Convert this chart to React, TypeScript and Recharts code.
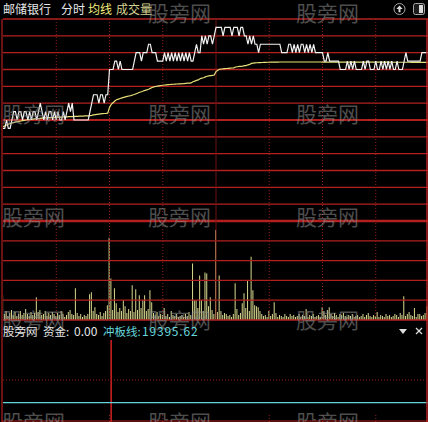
import React from 'react';
import { ComposedChart, Line, Bar, XAxis, YAxis, ReferenceLine } from 'recharts';

// 邮储银行 intraday (分时) — one value per trading minute, 0..240
const PREV_CLOSE = 5.16;

const price = [
  5.15, 5.15, 5.16, 5.15, 5.15, 5.16, 5.17, 5.17, 5.16, 5.17,
  5.17, 5.16, 5.17, 5.17, 5.16, 5.17, 5.16, 5.17, 5.17, 5.16,
  5.17, 5.18, 5.17, 5.16, 5.17, 5.16, 5.17, 5.17, 5.16, 5.17,
  5.16, 5.17, 5.16, 5.16, 5.17, 5.16, 5.17, 5.18, 5.17, 5.18,
  5.16, 5.16, 5.16, 5.16, 5.16, 5.16, 5.16, 5.16, 5.16, 5.17,
  5.18, 5.19, 5.19, 5.19, 5.18, 5.19, 5.19, 5.18, 5.19, 5.19,
  5.22, 5.22, 5.22, 5.23, 5.23, 5.22, 5.23, 5.22, 5.22, 5.22,
  5.22, 5.22, 5.22, 5.22, 5.23, 5.24, 5.24, 5.24, 5.23, 5.24,
  5.24, 5.24, 5.25, 5.25, 5.24, 5.24, 5.24, 5.23, 5.23, 5.23,
  5.23, 5.24, 5.23, 5.24, 5.23, 5.24, 5.23, 5.24, 5.23, 5.24,
  5.23, 5.24, 5.23, 5.24, 5.23, 5.24, 5.23, 5.23, 5.24, 5.25,
  5.24, 5.24, 5.26, 5.25, 5.26, 5.25, 5.26, 5.26, 5.25, 5.26,
  5.27, 5.27, 5.27, 5.27, 5.26, 5.27, 5.27, 5.27, 5.27, 5.26,
  5.27, 5.27, 5.27, 5.26, 5.27, 5.27, 5.26, 5.26, 5.25, 5.26,
  5.25, 5.26, 5.25, 5.25, 5.24, 5.25, 5.25, 5.25, 5.25, 5.25,
  5.25, 5.25, 5.25, 5.25, 5.25, 5.25, 5.25, 5.24, 5.24, 5.24,
  5.24, 5.25, 5.25, 5.24, 5.25, 5.24, 5.25, 5.24, 5.25, 5.25,
  5.24, 5.25, 5.24, 5.25, 5.24, 5.25, 5.24, 5.24, 5.24, 5.24,
  5.24, 5.23, 5.23, 5.24, 5.23, 5.23, 5.23, 5.23, 5.23, 5.23,
  5.22, 5.22, 5.22, 5.22, 5.23, 5.22, 5.23, 5.22, 5.23, 5.22,
  5.22, 5.22, 5.22, 5.23, 5.22, 5.23, 5.23, 5.22, 5.22, 5.22,
  5.23, 5.22, 5.22, 5.23, 5.22, 5.23, 5.22, 5.23, 5.22, 5.23,
  5.22, 5.22, 5.23, 5.22, 5.22, 5.22, 5.23, 5.24, 5.23, 5.23,
  5.23, 5.23, 5.23, 5.23, 5.23, 5.23, 5.24, 5.24, 5.24, 5.24,
  5.24,
];

const avgPrice = [
  5.1520, 5.1530, 5.1540, 5.1550, 5.1558, 5.1564, 5.1570, 5.1575, 5.1580, 5.1584,
  5.1588, 5.1592, 5.1596, 5.1600, 5.1603, 5.1606, 5.1608, 5.1610, 5.1613, 5.1616,
  5.1618, 5.1620, 5.1622, 5.1623, 5.1625, 5.1626, 5.1628, 5.1629, 5.1630, 5.1631,
  5.1632, 5.1633, 5.1634, 5.1635, 5.1636, 5.1637, 5.1638, 5.1639, 5.1640, 5.1641,
  5.1642, 5.1643, 5.1644, 5.1645, 5.1646, 5.1647, 5.1648, 5.1649, 5.1650, 5.1652,
  5.1655, 5.1660, 5.1663, 5.1666, 5.1669, 5.1672, 5.1675, 5.1677, 5.1679, 5.1682,
  5.1750, 5.1785, 5.1805, 5.1825, 5.1840, 5.1848, 5.1856, 5.1862, 5.1868, 5.1874,
  5.1880, 5.1885, 5.1890, 5.1897, 5.1903, 5.1912, 5.1920, 5.1930, 5.1936, 5.1944,
  5.1952, 5.1958, 5.1966, 5.1976, 5.1986, 5.1993, 5.1998, 5.2002, 5.2006, 5.2010,
  5.2013, 5.2016, 5.2018, 5.2020, 5.2022, 5.2024, 5.2025, 5.2027, 5.2028, 5.2029,
  5.2030, 5.2031, 5.2033, 5.2035, 5.2037, 5.2039, 5.2041, 5.2055, 5.2062, 5.2070,
  5.2076, 5.2090, 5.2097, 5.2102, 5.2112, 5.2120, 5.2124, 5.2128, 5.2131, 5.2134,
  5.2175, 5.2190, 5.2202, 5.2206, 5.2208, 5.2210, 5.2212, 5.2214, 5.2216, 5.2218,
  5.2220, 5.2230, 5.2233, 5.2236, 5.2238, 5.2241, 5.2245, 5.2247, 5.2256, 5.2260,
  5.2272, 5.2276, 5.2278, 5.2280, 5.2281, 5.2282, 5.2283, 5.2284, 5.2285, 5.2286,
  5.2286, 5.2287, 5.2287, 5.2288, 5.2288, 5.2288, 5.2289, 5.2289, 5.2289, 5.2289,
  5.2289, 5.2289, 5.2289, 5.2289, 5.2289, 5.2289, 5.2289, 5.2289, 5.2289, 5.2289,
  5.2289, 5.2289, 5.2289, 5.2289, 5.2289, 5.2289, 5.2289, 5.2289, 5.2289, 5.2289,
  5.2288, 5.2288, 5.2288, 5.2288, 5.2288, 5.2288, 5.2288, 5.2288, 5.2288, 5.2288,
  5.2288, 5.2288, 5.2288, 5.2288, 5.2288, 5.2288, 5.2288, 5.2288, 5.2288, 5.2288,
  5.2287, 5.2287, 5.2287, 5.2287, 5.2287, 5.2287, 5.2287, 5.2287, 5.2287, 5.2287,
  5.2287, 5.2287, 5.2287, 5.2287, 5.2287, 5.2287, 5.2287, 5.2287, 5.2287, 5.2287,
  5.2286, 5.2286, 5.2286, 5.2286, 5.2286, 5.2286, 5.2286, 5.2286, 5.2286, 5.2286,
  5.2285, 5.2285, 5.2285, 5.2285, 5.2285, 5.2285, 5.2285, 5.2285, 5.2285, 5.2285,
  5.2285,
];

// 成交量 per minute (万股)
const volume = [
  25, 6, 9, 4, 7, 10, 5, 8, 4, 6,
  9, 5, 7, 11, 6, 4, 8, 5, 7, 23,
  8, 10, 5, 6, 9, 4, 7, 5, 8, 6,
  4, 7, 5, 9, 6, 3, 5, 8, 10, 6,
  5, 32, 7, 4, 6, 3, 5, 4, 6, 26,
  28, 9, 13, 6, 5, 8, 4, 7, 9, 15,
  83, 42, 10, 32, 17, 8, 12, 9, 20, 14,
  7, 11, 9, 35, 8, 31, 10, 25, 12, 20,
  25, 9, 11, 30, 18, 7, 5, 8, 4, 6,
  5, 12, 4, 6, 3, 9, 5, 4, 6, 3,
  4, 5, 3, 6, 4, 8, 5, 57, 20, 20,
  12, 45, 20, 9, 48, 47, 14, 23, 10, 6,
  91, 8, 45, 9, 5, 7, 6, 4, 5, 3,
  6, 37, 11, 5, 7, 17, 27, 12, 40, 9,
  64, 30, 15, 14, 13, 9, 6, 4, 5, 3,
  9, 4, 6, 18, 7, 3, 5, 4, 3, 6,
  4, 3, 6, 4, 5, 3, 4, 6, 3, 5,
  4, 11, 3, 5, 4, 6, 3, 4, 5, 3,
  13, 9, 5, 10, 13, 6, 4, 7, 5, 3,
  6, 5, 7, 4, 3, 5, 4, 6, 3, 4,
  5, 3, 4, 6, 3, 5, 7, 4, 3, 5,
  4, 8, 3, 5, 4, 3, 6, 4, 5, 3,
  4, 6, 5, 3, 7, 5, 24, 4, 6, 8,
  5, 4, 12, 3, 6, 6, 4, 5, 7, 14,
  9,
];

// 资金 indicator: minutes with a non-zero reading; last reading 0.00
const fundSpikes = [{ minute: 61, value: 82000 }];
const FUND_LAST = 0.0;
const BOARD_LINE = 19395.62; // 冲板线

const priceGrid = [5.04, 5.06, 5.08, 5.1, 5.12, 5.14, 5.16, 5.18, 5.2, 5.22, 5.24, 5.26, 5.28];
const volumeGrid = [0, 20, 40, 60, 80];
const fundGrid = [42000];
const halfHours = [30, 60, 90, 150, 180, 210];
const MIDDAY = 120;

const minutes = price.map((_, i) => i);
const priceRows = minutes.map((m) => ({ m, price: price[m], avg: avgPrice[m] }));
const volRows = minutes.map((m) => ({ m, vol: volume[m] }));
const fundRows = minutes.map((m) => ({
  m,
  fund: fundSpikes.find((f) => f.minute === m)?.value ?? 0,
  board: BOARD_LINE,
}));

const RED = '#b3201f';
const DOT_RED = '#9a1d1d';
const FONT = '"Noto Sans CJK SC", "Noto Sans", sans-serif';
const CW = 432;
const CH = 422;
const layer: React.CSSProperties = { position: 'absolute', left: 0, top: 0 };

// watermark grid: [x, baseline]
const watermarks: [number, number][] = [
  [148, 21], [296, 21],
  [2, 122], [148, 122], [296, 122],
  [2, 225], [148, 225], [296, 225],
  [2, 328], [148, 328], [296, 328],
  [2, 430], [148, 430], [296, 430],
];

export default function App() {
  return (
    <div
      style={{
        position: 'fixed',
        left: 0,
        top: 0,
        width: 428,
        height: 422,
        background: '#000',
        overflow: 'hidden',
      }}
    >
      {/* price panel */}
      <div style={layer}>
        <ComposedChart width={CW} height={CH} data={priceRows} margin={{ top: 19, right: 3, bottom: 201, left: 3 }}>
          <XAxis dataKey="m" type="number" domain={[0, 240]} hide allowDataOverflow />
          <YAxis domain={[PREV_CLOSE - 0.12, PREV_CLOSE + 0.12]} hide allowDataOverflow />
          {priceGrid.map((v) => (
            <ReferenceLine
              key={v}
              y={v}
              stroke={RED}
              strokeWidth={v === PREV_CLOSE ? 2 : v === priceGrid[0] ? 2.5 : 1.3}
            />
          ))}
          {halfHours.map((t) => (
            <ReferenceLine key={t} x={t} stroke={DOT_RED} strokeDasharray="1 2" />
          ))}
          <ReferenceLine x={MIDDAY} stroke="#6e1515" strokeWidth={1} />
          <Line dataKey="avg" type="linear" stroke="#e6df78" strokeWidth={1.2} dot={false} isAnimationActive={false} />
          <Line dataKey="price" type="linear" stroke="#f2f2f2" strokeWidth={1.2} dot={false} isAnimationActive={false} />
        </ComposedChart>
      </div>

      {/* volume panel */}
      <div style={layer}>
        <ComposedChart width={CW} height={CH} data={volRows} margin={{ top: 221, right: 3, bottom: 102, left: 3 }}>
          <XAxis dataKey="m" type="number" domain={[0, 240]} hide allowDataOverflow />
          <YAxis domain={[0, 100]} hide allowDataOverflow />
          {volumeGrid.map((v) => (
            <ReferenceLine key={v} y={v} stroke={RED} strokeWidth={1.3} />
          ))}
          {halfHours.map((t) => (
            <ReferenceLine key={t} x={t} stroke={DOT_RED} strokeDasharray="1 2" />
          ))}
          <ReferenceLine x={MIDDAY} stroke="#6e1515" strokeWidth={1} />
          <Bar dataKey="vol" fill="#d9d88e" barSize={1} isAnimationActive={false} />
        </ComposedChart>
      </div>

      {/* 资金 / 冲板线 panel */}
      <div style={layer}>
        <ComposedChart width={CW} height={CH} data={fundRows} margin={{ top: 322, right: 3, bottom: 0, left: 3 }}>
          <XAxis dataKey="m" type="number" domain={[0, 240]} hide allowDataOverflow />
          <YAxis domain={[0, 100000]} hide allowDataOverflow />
          {fundGrid.map((v) => (
            <ReferenceLine key={v} y={v} stroke={DOT_RED} strokeDasharray="1 2" />
          ))}
          {halfHours.map((t) => (
            <ReferenceLine
              key={t}
              segment={[{ x: t, y: 0 }, { x: t, y: 9000 }]}
              stroke={DOT_RED}
              strokeDasharray="1 2"
            />
          ))}
          <Bar dataKey="fund" fill="#d42020" barSize={1.5} isAnimationActive={false} />
          <Line dataKey="board" type="linear" stroke="#62d6dc" strokeWidth={1.3} dot={false} isAnimationActive={false} />
        </ComposedChart>
      </div>

      {/* frame, labels, icons */}
      <svg width={428} height={422} style={layer} fontFamily={FONT}>
        <line x1={2} y1={19} x2={2} y2={422} stroke={RED} strokeWidth={1.2} />
        <line x1={427} y1={19} x2={427} y2={422} stroke={RED} strokeWidth={1.5} />
        <line x1={2} y1={421} x2={428} y2={421} stroke={RED} strokeWidth={1.2} />

        {watermarks.map(([x, y]) => (
          <text key={`${x}-${y}`} x={x} y={y} fontSize={21} fill="#8c8c8c" opacity={0.55}>
            股旁网
          </text>
        ))}

        <text x={3} y={14} fontSize={12} fill="#e8e8e8">邮储银行</text>
        <text x={61} y={14} fontSize={12} fill="#e8e8e8">分时</text>
        <text x={88} y={14} fontSize={12} fill="#f0ec7c">均线</text>
        <text x={116} y={14} fontSize={12} fill="#d6d390">成交量</text>

        <circle cx={399.5} cy={9} r={5.5} fill="none" stroke="#a8a8a8" strokeWidth={1} />
        <path d="M399.5 5.5 L396.3 9 H398.5 V12.3 H400.5 V9 H402.7 Z" fill="#dcdcdc" />
        <rect x={413.5} y={3.5} width={11} height={11} rx={2} fill="#1c1c1c" stroke="#a8a8a8" />
        <rect x={419} y={5} width={4} height={8} fill="#dcdcdc" />

        <text x={3} y={336} fontSize={11.5} fill="#e6e6e6">股旁网</text>
        <text x={43} y={336} fontSize={11.5} fill="#e6e6e6">资金:</text>
        <text x={74} y={336} fontSize={12} fill="#e6e6e6">{FUND_LAST.toFixed(2)}</text>
        <text x={103} y={336} fontSize={11.5} fill="#66d8de">冲板线:</text>
        <text x={142} y={336} fontSize={12} fill="#66d8de" letterSpacing={0.8}>
          {BOARD_LINE.toFixed(2)}
        </text>

        <polygon points="399,329 407,329 403,334" fill="#dcdcdc" />
        <line x1={416} y1={328} x2={422} y2={334} stroke="#dcdcdc" strokeWidth={1.2} />
        <line x1={422} y1={328} x2={416} y2={334} stroke="#dcdcdc" strokeWidth={1.2} />
      </svg>
    </div>
  );
}
